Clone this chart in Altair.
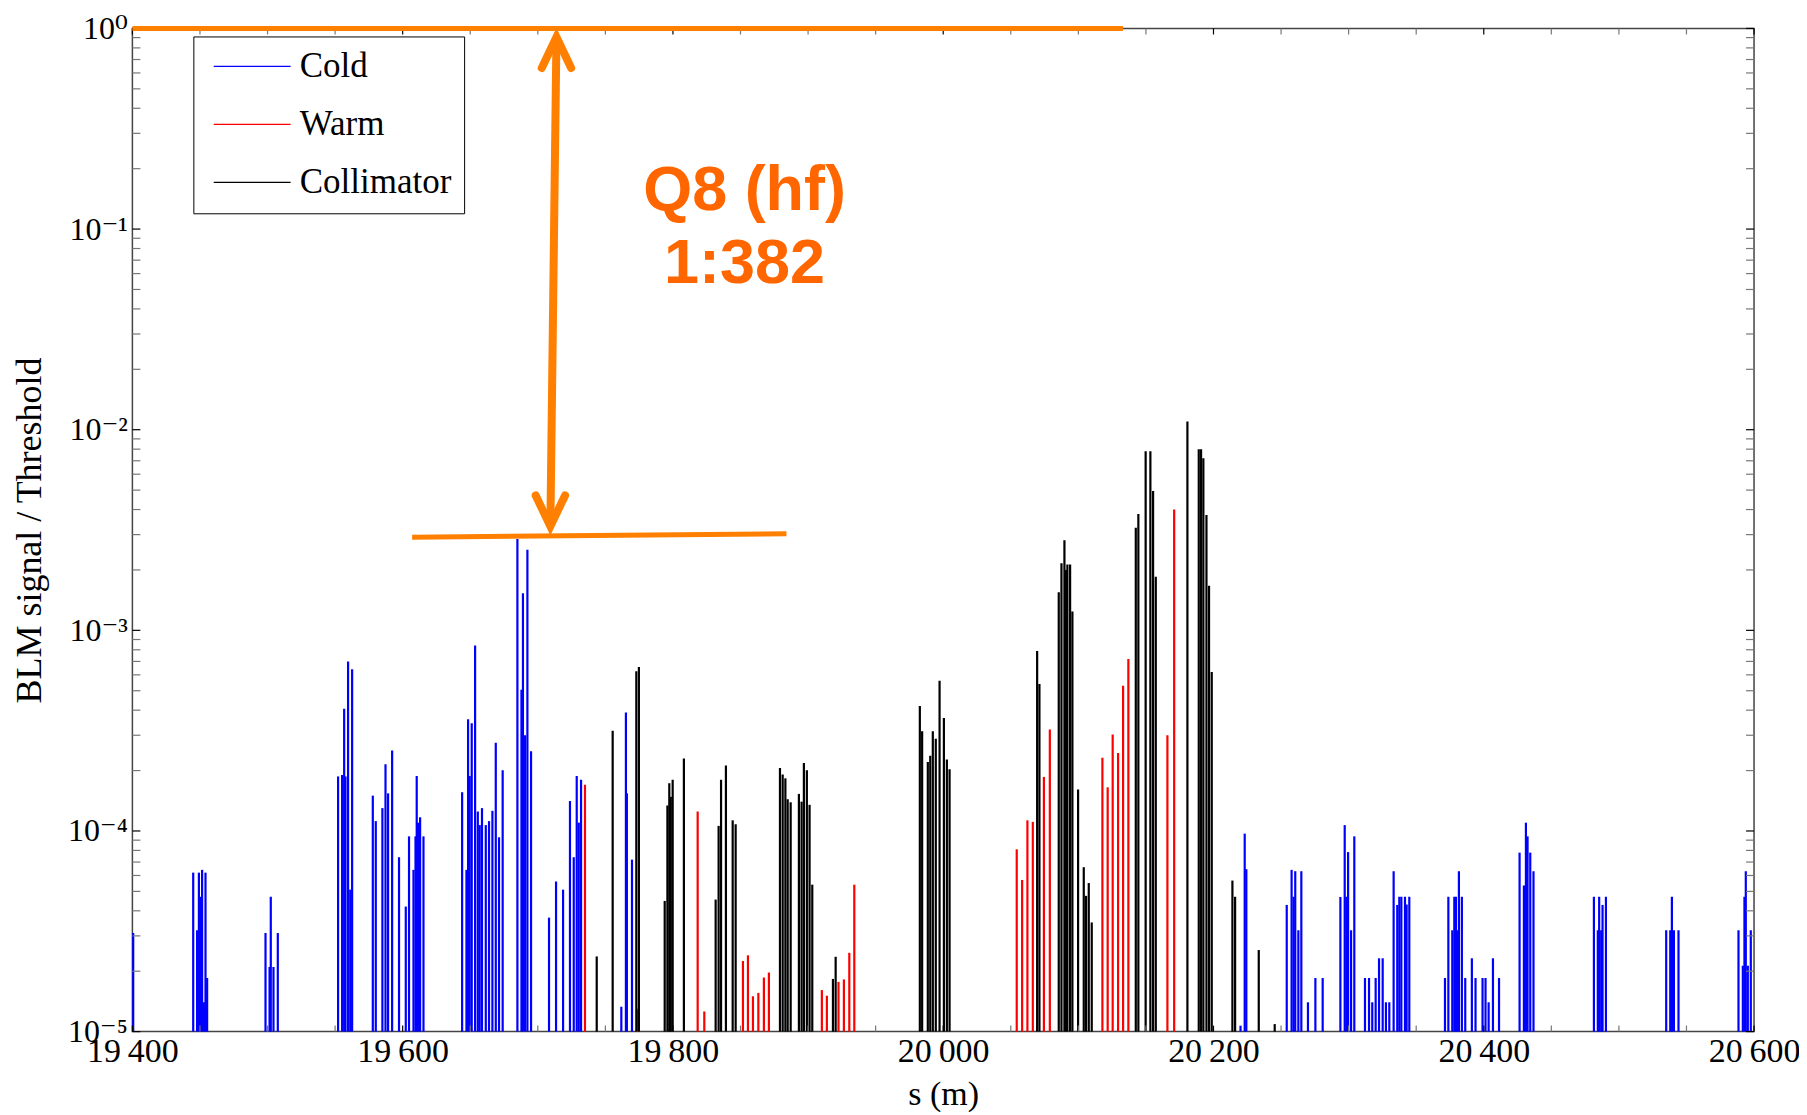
import altair as alt
import pandas as pd

# ---------------- data ----------------
cold_s = [19400.6, 19445.0, 19447.9, 19449.2, 19450.7, 19451.6, 19452.9, 19454.1, 19455.3,
          19498.5, 19501.5, 19502.4, 19504.4, 19507.6,
          19552.2, 19555.2, 19556.7, 19557.7, 19559.6, 19561.2, 19562.6,
          19577.9, 19580.1, 19585.0, 19587.3, 19589.2, 19592.2, 19597.3, 19602.3, 19604.7,
          19608.0, 19609.5, 19610.4, 19611.4, 19612.9, 19615.4,
          19644.0, 19647.2, 19648.4, 19649.6, 19651.1, 19653.6, 19655.6, 19657.0, 19658.7,
          19661.5, 19663.9, 19666.4, 19668.9, 19671.3, 19674.0,
          19684.9, 19687.9, 19689.0, 19690.6, 19692.3, 19695.0,
          19708.3, 19713.5, 19718.7, 19723.8, 19726.6, 19728.8, 19730.3, 19732.0,
          19761.8, 19765.2, 19765.9, 19769.7,
          20220.0, 20223.1, 20224.3,
          20254.2, 20257.8, 20259.3, 20260.5, 20262.8, 20265.0, 20269.9, 20275.4, 20280.8,
          20293.9, 20297.1, 20298.3, 20299.6, 20301.8, 20304.2,
          20312.1, 20315.1, 20317.5, 20320.0, 20322.5, 20325.2, 20327.6, 20330.1, 20333.3,
          20336.0, 20337.5, 20339.0, 20341.7, 20342.9, 20344.9,
          20371.3, 20373.8, 20376.7, 20378.2, 20379.4, 20380.5, 20381.6, 20383.8, 20386.3,
          20391.2, 20393.9, 20399.1, 20401.3, 20403.6, 20406.8, 20411.3,
          20426.5, 20429.7, 20431.2, 20432.4, 20434.4, 20436.8,
          20481.5, 20484.4, 20485.4, 20486.9, 20487.9, 20490.4,
          20535.0, 20538.0, 20539.2, 20540.7, 20544.1,
          20588.5, 20591.7, 20592.9, 20593.9, 20595.4, 20597.6]
cold_v = [3.1e-5, 6.2e-5, 3.2e-5, 6.2e-5, 4.7e-5, 6.4e-5, 1.4e-5, 6.2e-5, 1.85e-5,
          3.1e-5, 2.1e-5, 4.7e-5, 2.1e-5, 3.1e-5,
          1.87e-4, 1.9e-4, 4.07e-4, 1.87e-4, 7.0e-4, 5.1e-5, 6.4e-4,
          1.5e-4, 1.12e-4, 1.3e-4, 2.15e-4, 1.54e-4, 2.52e-4, 7.4e-5, 4.2e-5, 9.4e-5,
          6.4e-5, 9.4e-5, 1.88e-4, 1.1e-4, 1.17e-4, 9.4e-5,
          1.56e-4, 6.4e-5, 3.6e-4, 1.88e-4, 3.44e-4, 8.4e-4, 1.25e-4, 1.07e-4, 1.3e-4,
          1.07e-4, 1.12e-4, 1.26e-4, 2.75e-4, 9.3e-5, 2.01e-4,
          2.85e-3, 5.05e-4, 1.53e-3, 3.0e-4, 2.52e-3, 2.5e-4,
          3.7e-5, 5.6e-5, 5.1e-5, 1.41e-4, 7.4e-5, 1.88e-4, 1.1e-4, 1.8e-4,
          1.33e-5, 3.9e-4, 1.54e-4, 7.2e-5,
          1.07e-5, 9.7e-5, 6.45e-5,
          4.28e-5, 6.4e-5, 4.7e-5, 6.3e-5, 3.2e-5, 6.3e-5, 1.4e-5, 1.85e-5, 1.85e-5,
          4.69e-5, 1.07e-4, 4.7e-5, 7.85e-5, 3.2e-5, 9.4e-5,
          1.85e-5, 1.85e-5, 1.4e-5, 1.85e-5, 2.32e-5, 2.32e-5, 1.4e-5, 1.4e-5, 6.3e-5,
          4.28e-5, 4.7e-5, 4.7e-5, 4.7e-5, 4.3e-5, 4.7e-5,
          1.85e-5, 4.7e-5, 3.2e-5, 4.7e-5, 4.7e-5, 3.2e-5, 6.3e-5, 4.7e-5, 1.85e-5,
          2.32e-5, 1.85e-5, 1.85e-5, 1.85e-5, 1.4e-5, 2.32e-5, 1.85e-5,
          7.8e-5, 5.35e-5, 1.1e-4, 9.4e-5, 7.8e-5, 6.3e-5,
          4.7e-5, 3.2e-5, 4.7e-5, 3.2e-5, 4.28e-5, 4.7e-5,
          3.2e-5, 3.2e-5, 4.7e-5, 3.2e-5, 3.2e-5,
          3.2e-5, 2.13e-5, 4.7e-5, 6.3e-5, 2.13e-5, 3.2e-5]

warm_s = [19734.9, 19773.7, 19818.3, 19823.2, 19851.8, 19855.5, 19859.2, 19863.2, 19867.3,
          19871.0, 19910.2, 19913.9, 19922.5, 19926.5, 19930.5, 19934.2,
          20054.4, 20058.4, 20062.3, 20066.3, 20074.5, 20078.9,
          20117.8, 20121.7, 20125.4, 20129.4, 20133.1, 20137.0, 20165.9, 20170.9]
warm_v = [1.7e-4, 1.3e-5, 1.25e-4, 1.26e-5, 2.25e-5, 2.4e-5, 1.5e-5, 1.56e-5, 1.86e-5,
          1.97e-5, 1.61e-5, 1.51e-5, 1.77e-5, 1.82e-5, 2.47e-5, 5.4e-5,
          8.1e-5, 5.7e-5, 1.13e-4, 1.11e-4, 1.86e-4, 3.2e-4,
          2.32e-4, 1.65e-4, 3.03e-4, 2.45e-4, 5.3e-4, 7.2e-4, 3.0e-4, 4.0e-3]

coll_s = [19743.6, 19755.4, 19772.9, 19774.8, 19793.9, 19795.9, 19797.3, 19798.4, 19799.8,
          19808.1, 19831.6, 19833.8, 19835.6, 19839.2, 19844.2, 19846.4,
          19879.2, 19881.2, 19883.2, 19884.9, 19887.1, 19893.2, 19895.2, 19896.9, 19899.1,
          19901.1, 19903.1, 19918.4, 19920.4,
          19982.7, 19984.4, 19988.6, 19990.4, 19992.3, 19994.5, 19997.3, 20000.5, 20002.7, 20004.7,
          20069.5, 20071.2, 20085.5, 20087.5, 20089.7, 20090.8, 20091.9, 20093.9, 20095.6,
          20099.8, 20104.0, 20105.7, 20107.7, 20109.9,
          20142.5, 20144.4, 20149.8, 20153.3, 20155.3, 20157.3,
          20180.7, 20189.1, 20190.8, 20192.5, 20194.8, 20196.7, 20198.7,
          20214.0, 20216.0, 20233.5, 20245.3]
coll_v = [2.37e-5, 3.16e-4, 6.25e-4, 6.56e-4, 4.48e-5, 1.34e-4, 1.73e-4, 1.48e-4, 1.8e-4,
          2.3e-4, 4.55e-5, 1.06e-4, 1.8e-4, 2.12e-4, 1.13e-4, 1.08e-4,
          2.06e-4, 1.91e-4, 1.83e-4, 1.44e-4, 1.39e-4, 1.53e-4, 1.4e-4, 2.18e-4, 2.01e-4,
          1.35e-4, 5.4e-5, 1.83e-5, 2.36e-5,
          4.2e-4, 3.14e-4, 2.21e-4, 2.37e-4, 3.14e-4, 2.88e-4, 5.6e-4, 3.66e-4, 2.27e-4, 2.03e-4,
          7.9e-4, 5.4e-4, 1.55e-3, 2.16e-3, 2.81e-3, 2.0e-3, 2.13e-3, 2.13e-3, 1.24e-3,
          1.61e-4, 6.6e-5, 4.75e-5, 5.5e-5, 3.5e-5,
          3.25e-3, 3.8e-3, 7.8e-3, 7.8e-3, 4.95e-3, 1.85e-3,
          1.1e-2, 8.0e-3, 8.0e-3, 7.2e-3, 3.76e-3, 1.67e-3, 6.2e-4,
          5.66e-5, 4.7e-5, 2.55e-5, 1.09e-5]

categories = ["Cold", "Warm", "Collimator"]
cat_colors = ["#0000FF", "#FF0000", "#000000"]

x_major = [19400, 19600, 19800, 20000, 20200, 20400, 20600]
x_minor_step = 50
y_major = [1e-5, 1e-4, 1e-3, 1e-2, 1e-1, 1.0]

# annotation values
top_line_s = [19400, 20133]
top_line_v = [1.0, 1.0]
level_line_s = [19607, 19884]
level_line_v = [2.91e-3, 3.03e-3]
arrow_s = [19713.8, 19709.3]
arrow_v = [0.905, 3.3e-3]
arrow_angle = [0, 180]
note_text = ["Q8 (hf)", "1:382"]
note_s = [19853, 19853]
note_v = [0.1239, 0.05363]

# ---------------- tables ----------------
bars = pd.DataFrame({
    "s": cold_s + warm_s + coll_s,
    "v": cold_v + warm_v + coll_v,
    "type": ["Cold"] * len(cold_s) + ["Warm"] * len(warm_s) + ["Collimator"] * len(coll_s),
})
bars["base"] = 1e-5

yt = []
for k in range(-5, 1):
    yt.append({"v": 10.0 ** k, "major": True})
    if k < 0:
        for m in range(2, 10):
            yt.append({"v": m * 10.0 ** k, "major": False})
ytick = pd.DataFrame(yt)
xtick = pd.DataFrame({"s": list(range(19400, 20601, x_minor_step))})
xtick["major"] = xtick["s"].isin(x_major)

W, H = 1623, 1004
SERIF = "Liberation Serif, DejaVu Serif, serif"
ORANGE = "#FF7F00"

xs = alt.Scale(domain=[19400, 20600], nice=False, zero=False)
ys = alt.Scale(type="log", domain=[1e-5, 1], nice=False)

x_axis = alt.Axis(
    values=x_major, grid=False, ticks=False, domain=False, tickSize=0,
    labelExpr="floor(datum.value/1000) + '\u2009' + format(datum.value % 1000, '03d')",
    labelFont=SERIF, labelFontSize=34, labelColor="black", labelPadding=3, labelFlush=False,
    title="s (m)", titleFont=SERIF, titleFontSize=34, titleFontWeight="normal",
    titleColor="black", titleY=63, titleBaseline="middle", titleX=W / 2,
)
y_axis = alt.Axis(
    values=y_major, grid=False, ticks=False, domain=False, tickSize=0,
    labelExpr="'10' + (datum.value < 0.5 ? '\u207b' : '') + ['\u2070','\u00b9','\u00b2','\u00b3','\u2074','\u2075'][round(abs(log(datum.value)/LN10))]",
    labelFont=SERIF, labelFontSize=32, labelColor="black", labelPadding=5, labelFlush=False,
    title="BLM signal / Threshold", titleFont=SERIF, titleFontSize=36, titleFontWeight="normal",
    titleColor="black", titleX=-103, titleY=H / 2, titleAngle=270, titleAlign="center",
    titleBaseline="middle",
)

X = alt.X("s:Q", scale=xs, axis=x_axis)
Y = alt.Y("v:Q", scale=ys, axis=y_axis)

legend = alt.Legend(
    orient="none", legendX=61, legendY=8, title=None,
    symbolType="M -1 0 L 7 0", symbolSize=370, symbolStrokeWidth=1.3,
    labelFont=SERIF, labelFontSize=35, labelColor="black", labelOffset=59,
    rowPadding=22, padding=12.5, strokeColor="black", fillColor="white",
)

bar_layer = alt.Chart(bars).mark_rule(strokeWidth=2.2).encode(
    x=X, y=Y, y2="base:Q",
    color=alt.Color("type:N", scale=alt.Scale(domain=categories, range=cat_colors), legend=legend),
)

tick_color = alt.condition("datum.major", alt.value("#000000"), alt.value("#777777"))
ytl = alt.Chart(ytick).mark_rule(strokeWidth=1.2).encode(
    y=Y, x=alt.value(0), x2=alt.value(8), color=tick_color)
ytr = alt.Chart(ytick).mark_rule(strokeWidth=1.2).encode(
    y=Y, x=alt.value(W - 8), x2=alt.value(W), color=tick_color)
xtb = alt.Chart(xtick).mark_rule(strokeWidth=1.2).encode(
    x=X, y=alt.value(H - 6), y2=alt.value(H), color=tick_color)
xtt = alt.Chart(xtick).mark_rule(strokeWidth=1.2).encode(
    x=X, y=alt.value(0), y2=alt.value(6), color=tick_color)

top_line = alt.Chart(pd.DataFrame({"s": top_line_s, "v": top_line_v})).mark_line(
    color=ORANGE, strokeWidth=5, strokeCap="butt", clip=False).encode(x=X, y=Y)
level_line = alt.Chart(pd.DataFrame({"s": level_line_s, "v": level_line_v})).mark_line(
    color=ORANGE, strokeWidth=5, strokeCap="butt").encode(x=X, y=Y)
arrow_df = pd.DataFrame({"s": arrow_s, "v": arrow_v, "ang": arrow_angle})
shaft = alt.Chart(arrow_df).mark_line(
    color=ORANGE, strokeWidth=8, strokeCap="butt").encode(x=X, y=Y)
heads = alt.Chart(arrow_df).mark_point(
    shape="M -1 2.1 L 0 0 L 1 2.1", size=864, filled=False, color=ORANGE,
    strokeWidth=8, strokeCap="round", strokeJoin="miter", opacity=1).encode(
    x=X, y=Y, angle=alt.Angle("ang:Q", scale=None))
note = alt.Chart(pd.DataFrame({"s": note_s, "v": note_v, "txt": note_text})).mark_text(
    font="Liberation Sans, Arial, sans-serif", fontWeight="bold", fontSize=63,
    color="#FF6600", align="center", baseline="alphabetic").encode(
    x=X, y=Y, text="txt:N")

chart = alt.layer(
    bar_layer, ytl, ytr, xtb, xtt, top_line, level_line, shaft, heads, note
).properties(
    width=W, height=H,
    autosize=alt.AutoSizeParams(type="none"),
    padding={"left": 124.5, "top": 20, "right": 45, "bottom": 80},
).configure_view(stroke="#444444", strokeWidth=1.5)

chart.save("out.html", embed_options={"renderer": "svg", "actions": False})
